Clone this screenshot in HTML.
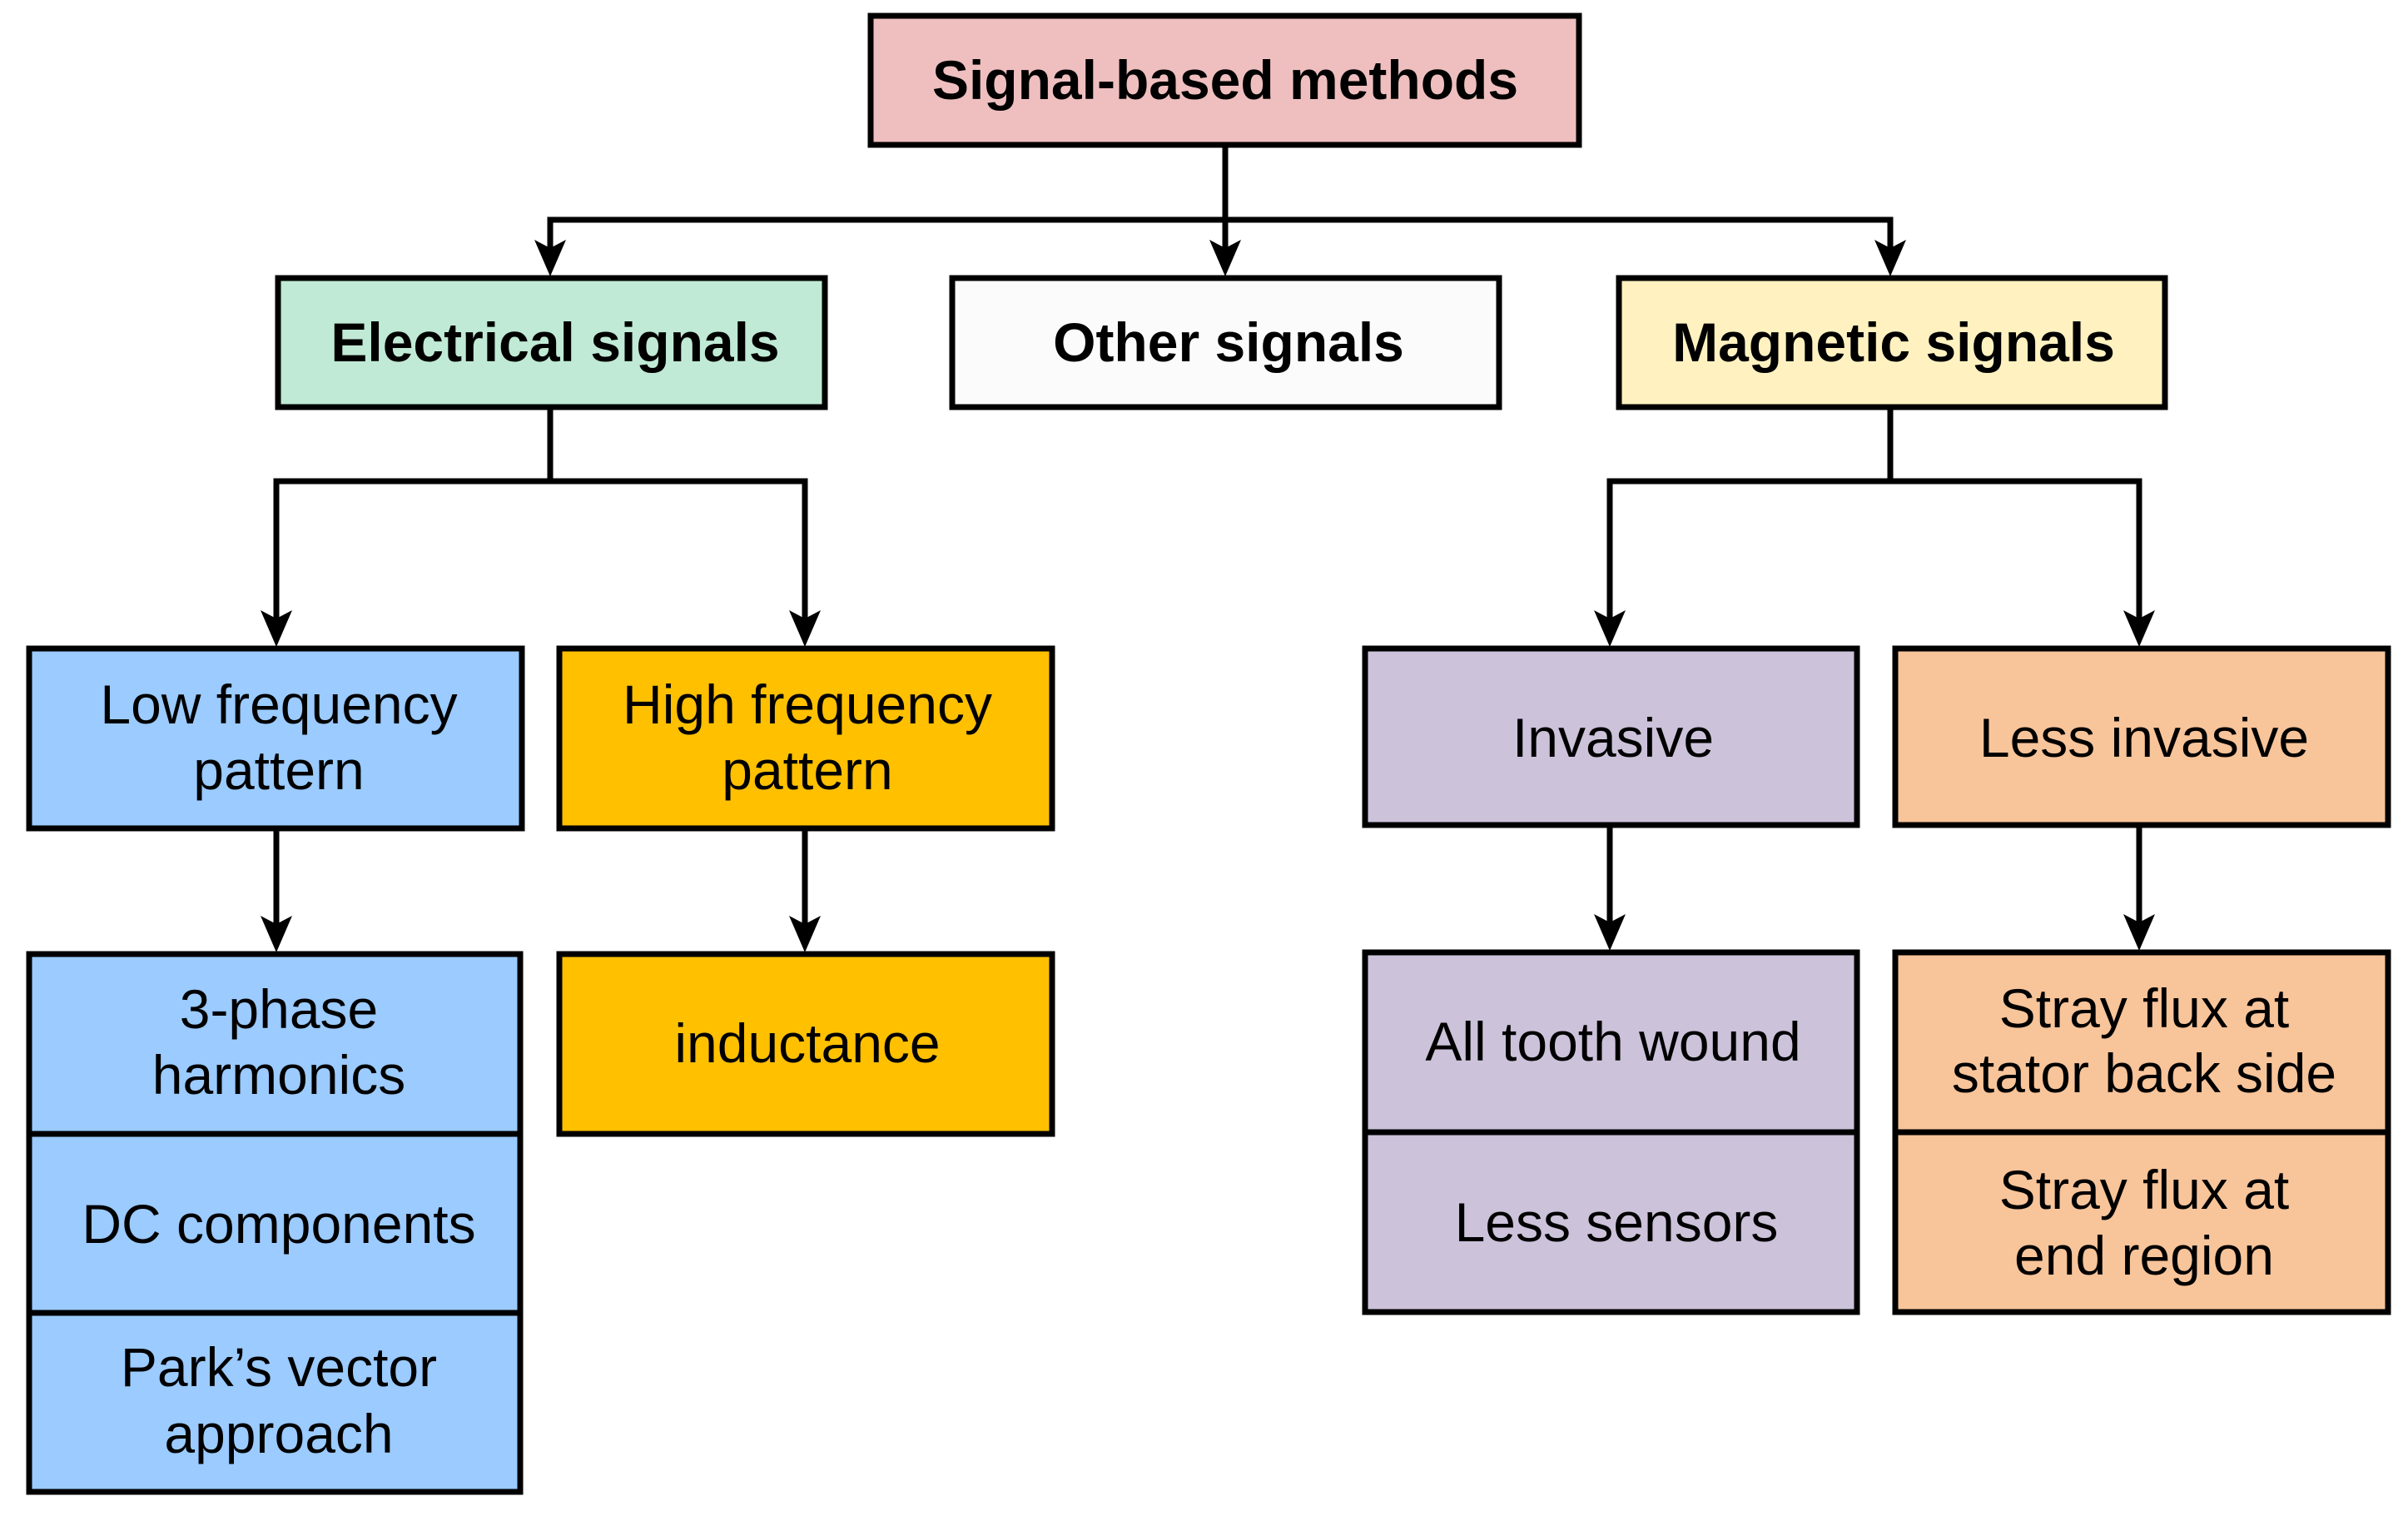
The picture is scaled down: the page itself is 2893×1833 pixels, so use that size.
<!DOCTYPE html>
<html><head><meta charset="utf-8"><style>
html,body{margin:0;padding:0;background:#fff}
svg{display:block}
text{font-family:"Liberation Sans",Arial,sans-serif;text-anchor:middle;font-size:66px}
.b{font-weight:bold;font-size:66px}
rect{stroke:#000;stroke-width:7}
line,polyline{stroke:#000;stroke-width:7;fill:none}
</style></head><body>
<svg width="2893" height="1833" viewBox="0 0 2893 1833" xmlns="http://www.w3.org/2000/svg">
<defs>
<g id="ah"><path d="M0,0 L-19,-44 L0,-34 L19,-44 Z" fill="#000"/></g>
</defs>
<rect x="1046" y="19" width="851" height="155" fill="#EFBFBF"/>
<rect x="334" y="334" width="657" height="155" fill="#C0EAD5"/>
<rect x="1144" y="334" width="657" height="155" fill="#FBFBFB"/>
<rect x="1945" y="334" width="656" height="155" fill="#FFF2C0"/>

<rect x="35" y="779" width="592" height="216" fill="#9BCBFF"/>
<rect x="672" y="779" width="592" height="216" fill="#FFC000"/>
<rect x="1640" y="779" width="591" height="212" fill="#CCC2DA"/>
<rect x="2277" y="779" width="592" height="212" fill="#F8C49A"/>

<rect x="35" y="1146" width="590" height="216" fill="#9BCBFF"/>
<rect x="35" y="1362" width="590" height="215" fill="#9BCBFF"/>
<rect x="35" y="1577" width="590" height="215" fill="#9BCBFF"/>
<rect x="672" y="1146" width="592" height="216" fill="#FFC000"/>
<rect x="1640" y="1144" width="591" height="216" fill="#CCC2DA"/>
<rect x="1640" y="1360" width="591" height="216" fill="#CCC2DA"/>
<rect x="2277" y="1144" width="592" height="216" fill="#F8C49A"/>
<rect x="2277" y="1360" width="592" height="216" fill="#F8C49A"/>

<line x1="1472" y1="174" x2="1472" y2="300"/>
<polyline points="661,300 661,264 2271,264 2271,300"/>
<use href="#ah" x="661" y="332"/><use href="#ah" x="1472" y="332"/><use href="#ah" x="2271" y="332"/>

<line x1="661" y1="489" x2="661" y2="578"/>
<polyline points="332,745 332,578 967,578 967,745"/>
<use href="#ah" x="332" y="777"/><use href="#ah" x="967" y="777"/>

<line x1="2271" y1="489" x2="2271" y2="578"/>
<polyline points="1934,745 1934,578 2570,578 2570,745"/>
<use href="#ah" x="1934" y="777"/><use href="#ah" x="2570" y="777"/>

<line x1="332" y1="995" x2="332" y2="1110"/><use href="#ah" x="332" y="1144"/>
<line x1="967" y1="995" x2="967" y2="1110"/><use href="#ah" x="967" y="1144"/>
<line x1="1934" y1="991" x2="1934" y2="1108"/><use href="#ah" x="1934" y="1142"/>
<line x1="2570" y1="991" x2="2570" y2="1108"/><use href="#ah" x="2570" y="1142"/>

<text class="b" x="1472" y="119">Signal-based methods</text>
<text class="b" x="667" y="434">Electrical signals</text>
<text class="b" x="1476" y="434">Other signals</text>
<text class="b" x="2275" y="434">Magnetic signals</text>

<text x="335" y="869">Low frequency</text>
<text x="335" y="948">pattern</text>
<text x="970" y="869">High frequency</text>
<text x="970" y="948">pattern</text>
<text x="1938" y="909">Invasive</text>
<text x="2576" y="909">Less invasive</text>

<text x="335" y="1235">3-phase</text>
<text x="335" y="1314">harmonics</text>
<text x="335" y="1493">DC components</text>
<text x="335" y="1665">Park’s vector</text>
<text x="335" y="1745">approach</text>
<text x="970" y="1276">inductance</text>
<text x="1938" y="1274">All tooth wound</text>
<text x="1942" y="1491">Less sensors</text>
<text x="2576" y="1234">Stray flux at</text>
<text x="2576" y="1312">stator back side</text>
<text x="2576" y="1452">Stray flux at</text>
<text x="2576" y="1531">end region</text>
</svg>
</body></html>
